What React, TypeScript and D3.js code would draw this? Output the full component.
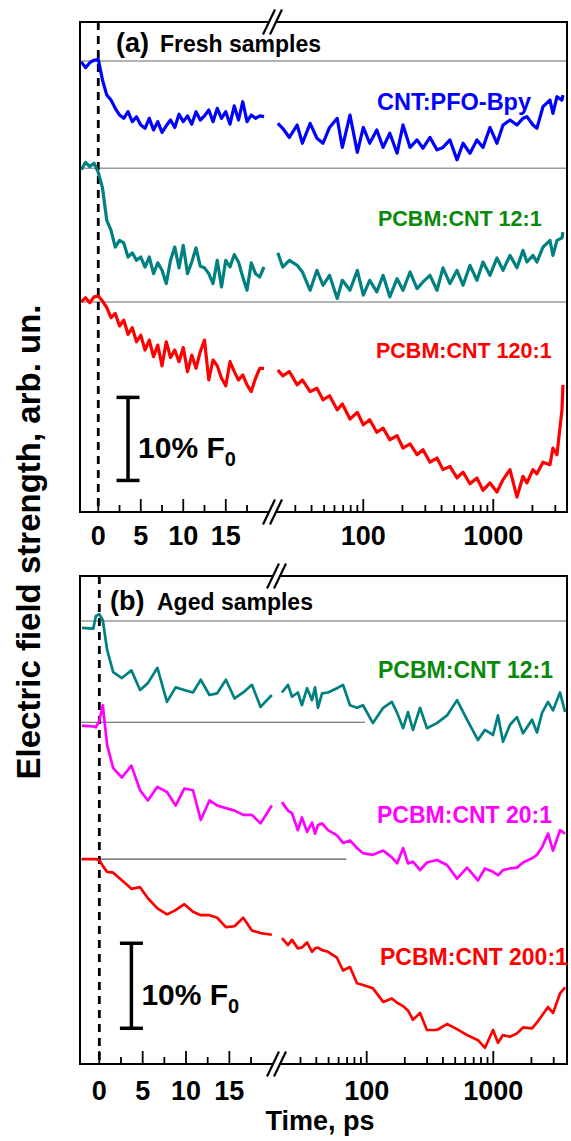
import React from 'react';
import * as d3 from 'd3';

const W = 571;
const H = 1141;

// ---------- time grids ----------
const FRESH_LIN_T = [-2, -1.5, -1, -0.5, 0, 0.5, 1, 1.5, 2, 2.5, 3, 3.5, 4, 4.5, 5, 5.5, 6, 6.5, 7, 7.5, 8, 8.5, 9, 9.5, 10, 10.5, 11, 11.5, 12, 12.5, 13, 13.5, 14, 14.5, 15, 15.5, 16, 16.5, 17, 17.5, 18, 18.5, 19, 19.5];
const FRESH_LOG_T = [22, 24, 27, 31, 34, 39, 44, 49, 55, 63, 69, 79, 90, 100, 112, 127, 142, 160, 182, 202, 229, 259, 288, 326, 369, 410, 464, 526, 585, 662, 749, 833, 943, 1067, 1188, 1344, 1521, 1692, 1815, 2019, 2166, 2411, 2729, 2877, 3090, 3375, 3435];
const AGED_LIN_T = [-2, -0.7, -0.4, 0, 0.4, 0.9, 1.6, 2.6, 3.7, 4.7, 5.6, 6.7, 7.8, 8.8, 9.8, 10.8, 11.7, 12.7, 13.6, 14.6, 15.6, 16.6, 17.6, 18.6, 19.9];
const AGED_LOG_T = [21.4, 23.9, 25.7, 28.6, 30.8, 33.8, 37.0, 39.1, 41.2, 44.4, 49.5, 58.2, 65.0, 73.8, 83.8, 93.5, 112, 135, 158, 174, 194, 212, 232, 264, 299, 359, 431, 517, 620, 757, 859, 995, 1089, 1193, 1355, 1538, 1718, 2023, 2215, 2427, 2705, 2963, 3365, 3690];

// ---------- (a) fresh samples, change of field in % F0 ----------
const BLUE_F_LIN = [-0.1, -0.8, -0.2, 0.1, 0.2, -2.3, -4.1, -4.7, -5.7, -6.5, -6.9, -6.1, -7.3, -6.7, -7.7, -8.1, -6.9, -8.3, -7.3, -8.6, -7.8, -7.1, -8.0, -6.4, -7.3, -6.6, -7.6, -6.1, -7.1, -6.6, -5.9, -7.3, -5.7, -6.9, -6.1, -7.6, -5.4, -7.1, -4.9, -7.3, -6.5, -6.9, -6.6, -6.7];
const BLUE_F_LOG = [-7.5, -8.1, -9.2, -7.7, -9.9, -7.5, -9.3, -9.9, -8.0, -6.9, -10.4, -6.5, -11.0, -8.0, -9.9, -8.3, -10.4, -8.7, -11.1, -7.7, -10.4, -9.5, -10.5, -9.2, -10.7, -10.4, -9.5, -11.9, -9.9, -11.1, -9.5, -10.4, -8.0, -9.9, -7.7, -7.1, -7.7, -6.9, -6.7, -7.7, -8.1, -5.5, -4.7, -6.3, -4.3, -4.7, -4.1];
const TEAL_F_LIN = [-0.2, 0.7, 0.2, 0.6, -0.5, -2.4, -6.3, -7.5, -9.5, -8.7, -9.0, -10.7, -10.2, -11.1, -10.7, -11.9, -10.7, -12.7, -11.4, -12.3, -13.9, -11.1, -9.5, -12.0, -9.3, -12.7, -11.3, -9.6, -11.8, -12.0, -12.7, -13.9, -11.1, -14.3, -11.1, -11.9, -10.4, -11.3, -13.1, -14.7, -11.4, -12.7, -13.1, -11.9];
const TEAL_F_LOG = [-10.2, -11.9, -11.1, -11.7, -12.5, -14.7, -12.3, -14.1, -12.9, -15.7, -13.5, -14.7, -12.3, -15.3, -13.5, -14.9, -12.9, -15.5, -13.3, -14.7, -12.5, -14.5, -13.7, -12.9, -14.7, -12.0, -13.9, -12.3, -14.1, -11.7, -13.5, -11.3, -12.9, -10.8, -12.3, -10.5, -12.0, -9.9, -11.3, -10.5, -11.3, -9.5, -8.7, -10.5, -8.7, -8.4, -7.7];
const RED_F_LIN = [0, 0.5, -0.1, 0.6, 0.7, 0.1, -0.7, -1.9, -1.4, -2.9, -2.2, -3.9, -3.1, -4.8, -4.0, -5.8, -4.6, -6.6, -5.2, -7.7, -4.8, -6.7, -5.8, -7.2, -5.5, -8.4, -6.4, -8.0, -6.0, -4.6, -9.4, -7.0, -7.7, -9.2, -10.1, -7.2, -8.4, -9.4, -8.8, -10.0, -10.8, -9.2, -8.0, -8.0];
const RED_F_LOG = [-8.2, -8.9, -8.4, -10.0, -9.4, -10.8, -10.4, -11.8, -11.3, -13.0, -12.3, -14.1, -13.3, -14.8, -14.2, -15.7, -15.2, -16.6, -16.1, -17.6, -17.1, -18.4, -17.8, -19.3, -18.8, -20.2, -19.8, -21.2, -20.5, -21.9, -21.2, -22.7, -21.8, -22.9, -21.4, -20.2, -23.5, -21.0, -21.8, -20.2, -20.7, -19.3, -19.6, -17.6, -18.4, -13.0, -10.0];

// ---------- (b) aged samples ----------
const TEAL_A_LIN = [-0.8, -0.9, 0.6, 0.8, 0.1, -3.4, -6.0, -6.7, -5.8, -8.1, -7.3, -5.5, -9.5, -7.8, -8.1, -8.4, -6.9, -8.7, -8.5, -6.9, -9.1, -8.4, -7.5, -10.1, -8.7];
const TEAL_A_LOG = [-8.4, -7.5, -8.9, -8.4, -9.9, -7.9, -9.3, -7.8, -10.2, -8.5, -8.4, -7.9, -7.5, -9.9, -10.2, -9.9, -12.0, -10.2, -9.5, -10.8, -12.6, -10.7, -12.8, -10.2, -12.6, -12.0, -11.1, -9.3, -11.6, -14.0, -12.8, -13.4, -11.1, -14.2, -12.2, -11.3, -13.2, -11.6, -13.1, -10.8, -9.5, -10.5, -8.4, -10.7];
const MAG_A_LIN = [-0.4, -0.5, -0.6, 0.2, 2.0, -2.7, -5.4, -6.5, -5.1, -8.0, -9.2, -7.6, -8.2, -9.8, -7.8, -8.0, -11.5, -9.2, -9.8, -10.1, -10.4, -10.9, -10.9, -11.9, -9.8];
const MAG_A_LOG = [-9.4, -10.4, -10.7, -12.7, -11.2, -12.9, -11.8, -13.1, -12.1, -11.9, -12.7, -13.3, -14.2, -13.9, -14.8, -15.4, -15.6, -15.1, -15.9, -16.6, -14.8, -16.6, -16.4, -17.4, -16.5, -16.2, -16.8, -18.4, -17.1, -18.6, -17.2, -17.6, -18.0, -17.4, -17.2, -17.1, -16.5, -16.0, -15.6, -14.7, -13.1, -15.1, -12.7, -13.1];
const RED_A_LIN = [0, 0, 0, -0.1, -0.8, -1.5, -1.6, -2.5, -3.5, -3.3, -4.6, -5.8, -6.5, -6.0, -5.3, -6.2, -6.6, -6.6, -6.9, -8.0, -7.9, -6.9, -8.4, -8.7, -8.9];
const RED_A_LOG = [-9.3, -10.1, -9.5, -10.5, -10.4, -9.8, -10.9, -10.5, -10.4, -10.7, -10.9, -11.6, -13.1, -12.7, -14.6, -14.8, -15.2, -16.8, -16.4, -16.9, -17.3, -17.8, -18.9, -18.1, -20.1, -20.1, -19.4, -20.0, -20.7, -21.3, -22.2, -20.1, -21.6, -20.7, -20.9, -20.5, -19.8, -19.9, -19.2, -18.4, -17.4, -18.1, -15.8, -15.1];

// ---------- ticks ----------
const LIN_MAJOR = [0, 5, 10, 15];
const LIN_MINOR = [2.5, 7.5, 12.5, 17.5];
const LOG_MAJOR = [100, 1000];
const LOG_MINOR = [30, 40, 50, 60, 70, 80, 90, 200, 300, 400, 500, 600, 700, 800, 900, 2000, 3000];

const FONT = "'Liberation Sans', Arial, Helvetica, sans-serif";

type Series = {
  label: string;
  color: string;
  labelColor: string;
  offset: number;
  linT: number[];
  lin: number[];
  logT: number[];
  log: number[];
  labelX: number;
  labelY: number;
  labelSize: number;
  baseEnd?: number;
  baseColor: string;
  baseWidth: number;
};

type PanelCfg = {
  top: number;
  bottom: number;
  left: number;
  right: number;
  breakX: number;
  linDomain: [number, number];
  logDomain: [number, number];
  yDomain: [number, number];
  letter: string;
  title: string;
  letterX: number;
  titleX: number;
  titleY: number;
  lineWidth: number;
  bar: { t: number; lo: number; hi: number };
  tickLabelDy: number;
  series: Series[];
};

const panels: PanelCfg[] = [
  {
    top: 22, bottom: 512, left: 80, right: 567, breakX: 272,
    linDomain: [-2.15, 20.44], logDomain: [19.85, 3690], yDomain: [-54.3, 4.7],
    letter: '(a)', title: 'Fresh samples', letterX: 116, titleX: 160, titleY: 52,
    lineWidth: 3.2,
    bar: { t: 3.5, lo: -50.5, hi: -40.5 },
    tickLabelDy: 33,
    series: [
      { label: 'CNT:PFO-Bpy', color: '#0000ff', labelColor: '#0000ff', offset: 0, linT: FRESH_LIN_T, lin: BLUE_F_LIN, logT: FRESH_LOG_T, log: BLUE_F_LOG, labelX: 377, labelY: 110, labelSize: 23.5, baseColor: '#9a9a9a', baseWidth: 1.5 },
      { label: 'PCBM:CNT 12:1', color: '#008080', labelColor: '#0a8a0a', offset: -12.9, linT: FRESH_LIN_T, lin: TEAL_F_LIN, logT: FRESH_LOG_T, log: TEAL_F_LOG, labelX: 378, labelY: 226, labelSize: 21.5, baseColor: '#9a9a9a', baseWidth: 1.5 },
      { label: 'PCBM:CNT 120:1', color: '#ff0000', labelColor: '#ff0000', offset: -29.0, linT: FRESH_LIN_T, lin: RED_F_LIN, logT: FRESH_LOG_T, log: RED_F_LOG, labelX: 376, labelY: 358, labelSize: 21.5, baseColor: '#9a9a9a', baseWidth: 1.5 },
    ],
  },
  {
    top: 576, bottom: 1064, left: 80, right: 567, breakX: 276,
    linDomain: [-2.23, 20.38], logDomain: [19.21, 3821], yDomain: [-52.1, 5.3],
    letter: '(b)', title: 'Aged samples', letterX: 110, titleX: 157, titleY: 610,
    lineWidth: 2.7,
    bar: { t: 3.7, lo: -47.9, hi: -37.9 },
    tickLabelDy: 36,
    series: [
      { label: 'PCBM:CNT 12:1', color: '#008080', labelColor: '#0a8a0a', offset: 0, linT: AGED_LIN_T, lin: TEAL_A_LIN, logT: AGED_LOG_T, log: TEAL_A_LOG, labelX: 378, labelY: 678, labelSize: 23, baseColor: '#9a9a9a', baseWidth: 1.5 },
      { label: 'PCBM:CNT 20:1', color: '#ff00ff', labelColor: '#ff00ff', offset: -11.9, linT: AGED_LIN_T, lin: MAG_A_LIN, logT: AGED_LOG_T, log: MAG_A_LOG, labelX: 377, labelY: 823, labelSize: 23, baseEnd: 97, baseColor: '#555555', baseWidth: 1.2 },
      { label: 'PCBM:CNT 200:1', color: '#ff0000', labelColor: '#ff0000', offset: -28.0, linT: AGED_LIN_T, lin: RED_A_LIN, logT: AGED_LOG_T, log: RED_A_LOG, labelX: 380, labelY: 965, labelSize: 23, baseEnd: 69, baseColor: '#555555', baseWidth: 1.2 },
    ],
  },
];

function BreakMark({ x, y }: { x: number; y: number }) {
  const dx = 6, dy = 12.5, sep = 7;
  return (
    <g>
      <polygon
        points={`${x - dx},${y + dy} ${x + dx},${y - dy} ${x + dx + sep},${y - dy} ${x - dx + sep},${y + dy}`}
        fill="#ffffff"
      />
      <line x1={x - dx} y1={y + dy} x2={x + dx} y2={y - dy} stroke="#000" strokeWidth={2.2} />
      <line x1={x - dx + sep} y1={y + dy} x2={x + dx + sep} y2={y - dy} stroke="#000" strokeWidth={2.2} />
    </g>
  );
}

function Panel({ p }: { p: PanelCfg }) {
  const xl = d3.scaleLinear().domain(p.linDomain).range([p.left, p.breakX]);
  const xg = d3.scaleLog().domain(p.logDomain).range([p.breakX, p.right]);
  const y = d3.scaleLinear().domain(p.yDomain).range([p.bottom, p.top]);

  const bx = p.breakX - 3;

  return (
    <g>
      {p.series.map((s, i) => {
        const yy = y(s.offset);
        const x2 = s.baseEnd === undefined ? p.right : xg(s.baseEnd);
        return <line key={'b' + i} x1={p.left} x2={x2} y1={yy} y2={yy} stroke={s.baseColor} strokeWidth={s.baseWidth} />;
      })}

      <line x1={xl(0)} x2={xl(0)} y1={p.top} y2={p.bottom} stroke="#000" strokeWidth={2.8} strokeDasharray="8,6" />

      {p.series.map((s, i) => {
        const lineLin = d3.line<number>().x((_, k) => xl(s.linT[k])).y((v) => y(v + s.offset));
        const lineLog = d3.line<number>().x((_, k) => xg(s.logT[k])).y((v) => y(v + s.offset));
        return (
          <g key={'s' + i} fill="none" stroke={s.color} strokeWidth={p.lineWidth} strokeLinejoin="round">
            <path d={lineLin(s.lin) || ''} />
            <path d={lineLog(s.log) || ''} />
          </g>
        );
      })}

      <g stroke="#000" strokeWidth={2}>
        <line x1={p.left} x2={p.left} y1={p.top} y2={p.bottom} />
        <line x1={p.right} x2={p.right} y1={p.top} y2={p.bottom} />
        <line x1={p.left - 1} x2={p.right + 1} y1={p.top} y2={p.top} />
        <line x1={p.left - 1} x2={p.right + 1} y1={p.bottom} y2={p.bottom} />
      </g>

      <g stroke="#000" strokeWidth={1.8}>
        {LIN_MAJOR.map((t) => (
          <line key={'lM' + t} x1={xl(t)} x2={xl(t)} y1={p.bottom} y2={p.bottom - 13} />
        ))}
        {LIN_MINOR.map((t) => (
          <line key={'lm' + t} x1={xl(t)} x2={xl(t)} y1={p.bottom} y2={p.bottom - 7} />
        ))}
        {LOG_MAJOR.map((t) => (
          <line key={'gM' + t} x1={xg(t)} x2={xg(t)} y1={p.bottom} y2={p.bottom - 13} />
        ))}
        {LOG_MINOR.map((t) => (
          <line key={'gm' + t} x1={xg(t)} x2={xg(t)} y1={p.bottom} y2={p.bottom - 7} />
        ))}
      </g>

      <BreakMark x={bx} y={p.top} />
      <BreakMark x={bx} y={p.bottom} />

      <g fontFamily={FONT} fontWeight="bold" fontSize={27} textAnchor="middle" fill="#000">
        {LIN_MAJOR.map((t) => (
          <text key={'tl' + t} x={xl(t)} y={p.bottom + p.tickLabelDy}>{t}</text>
        ))}
        {LOG_MAJOR.map((t) => (
          <text key={'tg' + t} x={xg(t)} y={p.bottom + p.tickLabelDy}>{t}</text>
        ))}
      </g>

      <text x={p.letterX} y={p.titleY} fontFamily={FONT} fontWeight="bold" fontSize={27}>{p.letter}</text>
      <text x={p.titleX} y={p.titleY} fontFamily={FONT} fontWeight="bold" fontSize={23}>{p.title}</text>

      {p.series.map((s, i) => (
        <text key={'t' + i} x={s.labelX} y={s.labelY} fill={s.labelColor} fontFamily={FONT} fontWeight="bold" fontSize={s.labelSize}>
          {s.label}
        </text>
      ))}

      {(() => {
        const x = xl(p.bar.t);
        const y1 = y(p.bar.hi);
        const y2 = y(p.bar.lo);
        const mid = (y1 + y2) / 2;
        return (
          <g>
            <g stroke="#000" strokeWidth={3.5}>
              <line x1={x} x2={x} y1={y1} y2={y2} />
              <line x1={x - 11.5} x2={x + 11.5} y1={y1} y2={y1} />
              <line x1={x - 11.5} x2={x + 11.5} y1={y2} y2={y2} />
            </g>
            <text x={x + 10} y={mid + 19} fontFamily={FONT} fontWeight="bold" fontSize={30}>
              10% F<tspan fontSize={20} dy={8}>0</tspan>
            </text>
          </g>
        );
      })()}
    </g>
  );
}

export default function App() {
  return (
    <svg
      width={W}
      height={H}
      viewBox={`0 0 ${W} ${H}`}
      style={{ position: 'absolute', left: 0, top: 0, background: '#fff', display: 'block' }}
    >
      <rect x={0} y={0} width={W} height={H} fill="#fff" />
      {panels.map((p, i) => (
        <Panel key={i} p={p} />
      ))}
      <text
        transform="translate(40,542) rotate(-90)"
        textAnchor="middle"
        fontFamily={FONT}
        fontWeight="bold"
        fontSize={33}
      >
        Electric field strength, arb. un.
      </text>
      <text x={320} y={1130} textAnchor="middle" fontFamily={FONT} fontWeight="bold" fontSize={27}>
        Time, ps
      </text>
    </svg>
  );
}
